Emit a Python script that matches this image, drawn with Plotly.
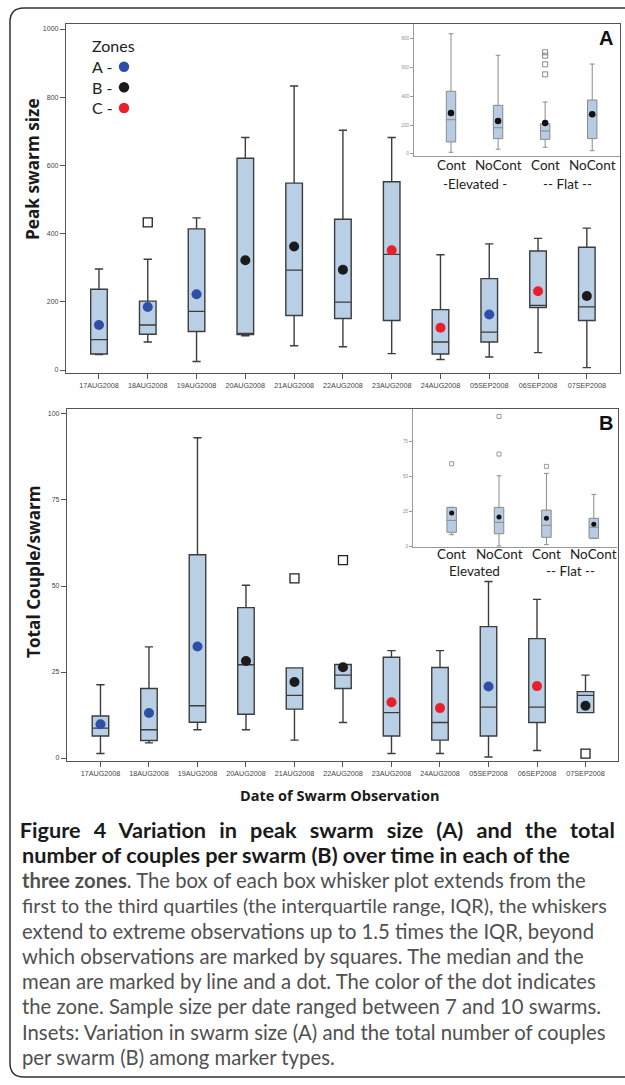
import plotly.graph_objects as go

W, H = 625, 1085

# ---------------- data ----------------
dates = ["17AUG2008", "18AUG2008", "19AUG2008", "20AUG2008", "21AUG2008", "22AUG2008",
         "23AUG2008", "24AUG2008", "05SEP2008", "06SEP2008", "07SEP2008"]
zones = ["A", "A", "A", "B", "B", "B", "C", "C", "A", "C", "B"]
zone_colors = {"A": "#2f4fa6", "B": "#1b1b1b", "C": "#e8202a"}

# Panel A: peak swarm size
size_low = [45, 82, 25, 100, 71, 68, 48, 31, 38, 51, 7]
size_q1 = [47, 105, 113, 104, 160, 151, 145, 47, 82, 183, 145]
size_med = [89, 132, 172, 106, 293, 199, 339, 82, 111, 189, 185]
size_q3 = [237, 202, 414, 621, 548, 442, 552, 177, 268, 349, 360]
size_high = [296, 325, 446, 682, 833, 703, 682, 338, 370, 386, 416]
size_mean = [132, 185, 222, 322, 362, 294, 351, 124, 163, 231, 217]
size_out_x = ["18AUG2008"]
size_out_y = [433]

# Panel B: total couples per swarm
cpl_low = [1.3, 4.4, 8.2, 8.2, 5.2, 10.3, 1.3, 1.3, 0.3, 2.2, 13.2]
cpl_q1 = [6.4, 5.1, 10.4, 12.7, 14.2, 20.2, 6.4, 5.2, 6.4, 10.3, 13.2]
cpl_med = [8.7, 8.2, 15.2, 27.1, 18.2, 24.1, 13.2, 10.3, 14.8, 14.8, 18.2]
cpl_q3 = [12.2, 20.2, 59.1, 43.7, 26.2, 27.2, 29.3, 26.3, 38.2, 34.7, 19.3]
cpl_high = [21.3, 32.3, 93.1, 50.2, 26.2, 27.2, 31.2, 31.2, 51.3, 46.1, 24.1]
cpl_mean = [9.8, 13.1, 32.4, 28.2, 22.1, 26.4, 16.2, 14.5, 20.8, 20.9, 15.2]
cpl_out_x = ["21AUG2008", "22AUG2008", "07SEP2008"]
cpl_out_y = [52.2, 57.5, 1.3]

# Insets: marker types
groups = ["Elev-Cont", "Elev-NoCont", "Flat-Cont", "Flat-NoCont"]
group_labels = ["Cont", "NoCont", "Cont", "NoCont"]
terrain_labels = ["-Elevated -", "-- Flat --"]
terrain_labels_b = ["Elevated", "-- Flat --"]

insA_low = [10, 31, 45, 21]
insA_q1 = [82, 105, 100, 105]
insA_med = [237, 181, 158, 270]
insA_q3 = [435, 337, 209, 374]
insA_high = [836, 686, 360, 625]
insA_mean = [284, 228, 214, 275]
insA_out_x = ["Flat-Cont", "Flat-Cont", "Flat-Cont", "Flat-Cont"]
insA_out_y = [707, 683, 623, 553]

insB_low = [8.1, 0.0, 1.0, 5.5]
insB_q1 = [9.8, 8.8, 6.2, 5.5]
insB_med = [18.3, 16.9, 14.8, 13.4]
insB_q3 = [27.6, 27.6, 25.7, 19.8]
insB_high = [27.6, 50.2, 51.9, 36.9]
insB_mean = [23.6, 20.7, 19.8, 15.5]
insB_out_x = ["Elev-Cont", "Elev-NoCont", "Elev-NoCont", "Flat-Cont"]
insB_out_y = [58.8, 92.6, 65.7, 56.9]

caption_lines = [
    "<b>Figure 4 Variation in peak swarm size (A) and the total</b>",
    "<b>number of couples per swarm (B) over time in each of the</b>",
    "<b>three zones</b>. The box of each box whisker plot extends from the",
    "first to the third quartiles (the interquartile range, IQR), the whiskers",
    "extend to extreme observations up to 1.5 times the IQR, beyond",
    "which observations are marked by squares. The median and the",
    "mean are marked by line and a dot. The color of the dot indicates",
    "the zone. Sample size per date ranged between 7 and 10 swarms.",
    "Insets: Variation in swarm size (A) and the total number of couples",
    "per swarm (B) among marker types.",
]


# ---------------- helpers ----------------
def px(x):
    return x / W


def py(y):
    return 1 - y / H


BOX_FILL = "#b9cfe6"
BOX_LINE = "#3d3d3d"
INS_FILL = "#b7cbe3"
INS_LINE = "#8a8a8a"

fig = go.Figure()

# Main panel A
fig.add_trace(go.Box(x=dates, q1=size_q1, median=size_med, q3=size_q3,
                     lowerfence=size_low, upperfence=size_high,
                     width=0.34, whiskerwidth=0.5, fillcolor=BOX_FILL,
                     line=dict(color=BOX_LINE, width=1.4), boxpoints=False,
                     xaxis="x", yaxis="y", hoverinfo="skip"))
fig.add_trace(go.Scatter(x=size_out_x, y=size_out_y, mode="markers",
                         marker=dict(symbol="square-open", size=9, color="#222",
                                     line=dict(width=1.3)),
                         xaxis="x", yaxis="y"))
fig.add_trace(go.Scatter(x=dates, y=size_mean, mode="markers",
                         marker=dict(size=10, color=[zone_colors[z] for z in zones]),
                         xaxis="x", yaxis="y"))

# Main panel B
fig.add_trace(go.Box(x=dates, q1=cpl_q1, median=cpl_med, q3=cpl_q3,
                     lowerfence=cpl_low, upperfence=cpl_high,
                     width=0.34, whiskerwidth=0.5, fillcolor=BOX_FILL,
                     line=dict(color=BOX_LINE, width=1.4), boxpoints=False,
                     xaxis="x2", yaxis="y2", hoverinfo="skip"))
fig.add_trace(go.Scatter(x=cpl_out_x, y=cpl_out_y, mode="markers",
                         marker=dict(symbol="square-open", size=9, color="#222",
                                     line=dict(width=1.3)),
                         xaxis="x2", yaxis="y2"))
fig.add_trace(go.Scatter(x=dates, y=cpl_mean, mode="markers",
                         marker=dict(size=10, color=[zone_colors[z] for z in zones]),
                         xaxis="x2", yaxis="y2"))

# Inset A
fig.add_trace(go.Box(x=groups, q1=insA_q1, median=insA_med, q3=insA_q3,
                     lowerfence=insA_low, upperfence=insA_high,
                     width=0.2, whiskerwidth=0.5, fillcolor=INS_FILL,
                     line=dict(color=INS_LINE, width=1), boxpoints=False,
                     xaxis="x3", yaxis="y3", hoverinfo="skip"))
fig.add_trace(go.Scatter(x=insA_out_x, y=insA_out_y, mode="markers",
                         marker=dict(symbol="square-open", size=5, color="#888",
                                     line=dict(width=1)),
                         xaxis="x3", yaxis="y3"))
fig.add_trace(go.Scatter(x=groups, y=insA_mean, mode="markers",
                         marker=dict(size=6.5, color="#111"),
                         xaxis="x3", yaxis="y3"))

# Inset B
fig.add_trace(go.Box(x=groups, q1=insB_q1, median=insB_med, q3=insB_q3,
                     lowerfence=insB_low, upperfence=insB_high,
                     width=0.2, whiskerwidth=0.5, fillcolor=INS_FILL,
                     line=dict(color=INS_LINE, width=1), boxpoints=False,
                     xaxis="x4", yaxis="y4", hoverinfo="skip"))
fig.add_trace(go.Scatter(x=insB_out_x, y=insB_out_y, mode="markers",
                         marker=dict(symbol="square-open", size=4, color="#999",
                                     line=dict(width=1)),
                         xaxis="x4", yaxis="y4"))
fig.add_trace(go.Scatter(x=groups, y=insB_mean, mode="markers",
                         marker=dict(size=5, color="#111"),
                         xaxis="x4", yaxis="y4"))

tickfont_main = dict(family="Liberation Sans, Arial", size=7.2, color="#444")
main_x_common = dict(type="category", categoryorder="array", categoryarray=dates,
                     showline=True, linecolor="#555", linewidth=1.3, mirror=True,
                     ticks="outside", ticklen=5, tickcolor="#555", tickwidth=1,
                     tickfont=tickfont_main, showgrid=False, zeroline=False,
                     automargin=False, fixedrange=True)
main_y_common = dict(showline=True, linecolor="#555", linewidth=1.3, mirror=True,
                     ticks="outside", ticklen=5, tickcolor="#555", tickwidth=1,
                     tickfont=dict(family="Liberation Sans, Arial", size=7, color="#444"),
                     showgrid=False, zeroline=False, automargin=False, fixedrange=True)
inset_x_common = dict(type="category", categoryorder="array", categoryarray=groups,
                      showline=True, linecolor="#999", linewidth=1, mirror=False,
                      ticks="", showticklabels=False, showgrid=False, zeroline=False,
                      automargin=False, fixedrange=True)
inset_y_common = dict(showline=True, linecolor="#999", linewidth=1, mirror=False,
                      ticks="outside", ticklen=3, tickcolor="#999",
                      tickfont=dict(family="Liberation Sans, Arial", size=4.5, color="#a08890"),
                      showgrid=False, zeroline=False, automargin=False, fixedrange=True)

fig.update_layout(
    width=W, height=H, margin=dict(l=0, r=0, t=0, b=0),
    paper_bgcolor="white", plot_bgcolor="rgba(0,0,0,0)",
    showlegend=False, template="none",
    xaxis=dict(domain=[px(66), px(620)], anchor="y", range=[-0.676, 10.68], **main_x_common),
    yaxis=dict(domain=[py(373), py(24)], anchor="x", range=[-8.8, 1014.7],
               tickvals=[0, 200, 400, 600, 800, 1000], **main_y_common),
    xaxis2=dict(domain=[px(67), px(618)], anchor="y2", range=[-0.69, 10.67], **main_x_common),
    yaxis2=dict(domain=[py(761), py(409)], anchor="x2", range=[-0.87, 101.45],
                tickvals=[0, 25, 50, 75, 100], **main_y_common),
    xaxis3=dict(domain=[px(414), px(620)], anchor="y3", range=[-0.786, 3.59], **inset_x_common),
    yaxis3=dict(domain=[py(156), py(24)], anchor="x3", range=[-16, 904],
                tickvals=[0, 200, 400, 600, 800], **inset_y_common),
    xaxis4=dict(domain=[px(413), px(617)], anchor="y4", range=[-0.816, 3.49], **inset_x_common),
    yaxis4=dict(domain=[py(547), py(409)], anchor="x4", range=[-0.7, 97.9],
                tickvals=[0, 25, 50, 75], **inset_y_common),
)

shapes = []
# outer rounded border
r = 14
x0, y0, y1 = 10, 8, 1077
path = (f"M {px(640)},{py(y0)} L {px(x0 + r)},{py(y0)} "
        f"Q {px(x0)},{py(y0)} {px(x0)},{py(y0 + r)} "
        f"L {px(x0)},{py(y1 - r)} Q {px(x0)},{py(y1)} {px(x0 + r)},{py(y1)} "
        f"L {px(640)},{py(y1)}")
shapes.append(dict(type="path", xref="paper", yref="paper", path=path,
                   line=dict(color="#333", width=1.5)))
# legend dots
for yy, col in [(66.7, zone_colors["A"]), (87.3, zone_colors["B"]), (108, zone_colors["C"])]:
    shapes.append(dict(type="circle", xref="paper", yref="paper",
                       x0=px(124 - 5.2), x1=px(124 + 5.2), y0=py(yy + 5.2), y1=py(yy - 5.2),
                       fillcolor=col, line=dict(width=0)))
fig.update_layout(shapes=shapes)

ann = []
LEG_FONT = dict(family="Lato, Open Sans", size=16, color="#222")
ann.append(dict(text="Zones", x=px(90), y=py(45), xanchor="left", yanchor="middle", font=LEG_FONT))
for lab, yy in [("A -", 66.7), ("B -", 87.3), ("C -", 108)]:
    ann.append(dict(text=lab, x=px(90), y=py(yy), xanchor="left", yanchor="middle", font=LEG_FONT))

TITLE_FONT = dict(family="Open Sans", size=17.2, color="#1a1a1a")
ann.append(dict(text="<b>Peak swarm size</b>", x=px(33), y=py(169), textangle=-90,
                xanchor="center", yanchor="middle", font=TITLE_FONT))
ann.append(dict(text="<b>Total Couple/swarm</b>", x=px(33), y=py(572), textangle=-90,
                xanchor="center", yanchor="middle", font=TITLE_FONT))
ann.append(dict(text="<b>Date of Swarm Observation</b>", x=px(340), y=py(795),
                xanchor="center", yanchor="middle",
                font=dict(family="Open Sans", size=14.5, color="#1a1a1a")))

PANEL_FONT = dict(family="Liberation Sans, Arial", size=20, color="#111")
ann.append(dict(text="<b>A</b>", x=px(606), y=py(38), xanchor="center", yanchor="middle", font=PANEL_FONT))
ann.append(dict(text="<b>B</b>", x=px(606), y=py(423), xanchor="center", yanchor="middle", font=PANEL_FONT))

INS_FONT = dict(family="Lato, Open Sans", size=13.5, color="#222")
for g, lab in zip(groups, group_labels):
    ann.append(dict(text=lab, x=g, xref="x3", y=py(165), yref="paper",
                    xanchor="center", yanchor="middle", showarrow=False, font=INS_FONT))
    ann.append(dict(text=lab, x=g, xref="x4", y=py(554), yref="paper",
                    xanchor="center", yanchor="middle", showarrow=False, font=INS_FONT))
ann.append(dict(text=terrain_labels[0], x=px(474.5), y=py(184), xanchor="center", yanchor="middle", font=INS_FONT))
ann.append(dict(text=terrain_labels[1], x=px(567), y=py(184), xanchor="center", yanchor="middle", font=INS_FONT))
ann.append(dict(text=terrain_labels_b[0], x=px(474.5), y=py(571), xanchor="center", yanchor="middle", font=INS_FONT))
ann.append(dict(text=terrain_labels_b[1], x=px(570), y=py(571), xanchor="center", yanchor="middle", font=INS_FONT))

# caption
BOLD_CAP = dict(family="Lato, Open Sans", size=21.7, color="#1a1a1a")
CAP_FONT = dict(family="Lato, Open Sans", size=20.3, color="#505050")
for i, line in enumerate(caption_lines):
    yy = 830 + i * 25.2
    if i < 2:
        font = BOLD_CAP
    elif i == 3:
        font = dict(CAP_FONT, size=19.7)
    else:
        font = CAP_FONT
    if i == 0:
        # justified first line, centred across the text block
        ann.append(dict(text=line, x=px(317.5), y=py(yy), xanchor="center",
                        yanchor="middle", font=font))
    else:
        ann.append(dict(text=line, x=px(20), y=py(yy), xanchor="left",
                        yanchor="middle", font=font))

for a in ann:
    a.setdefault("xref", "paper")
    a.setdefault("yref", "paper")
    a.setdefault("showarrow", False)
fig.update_layout(annotations=ann)

js = """
document.body.style.margin='0px';
document.body.style.padding='0px';
document.body.style.overflow='hidden';
function justifyCaption(){
  var ts = document.querySelectorAll('.annotation-text');
  ts.forEach(function(t){
    if (t.textContent.indexOf('Figure 4') === 0) {
      var L = t.getComputedTextLength();
      var n = (t.textContent.match(/ /g) || []).length;
      if (n > 0 && L < 595) { t.style.wordSpacing = ((595 - L) / n) + 'px'; }
    }
  });
}
justifyCaption();
setTimeout(justifyCaption, 300);
"""

fig.write_html("out.html", post_script=js, config={"displayModeBar": False})
